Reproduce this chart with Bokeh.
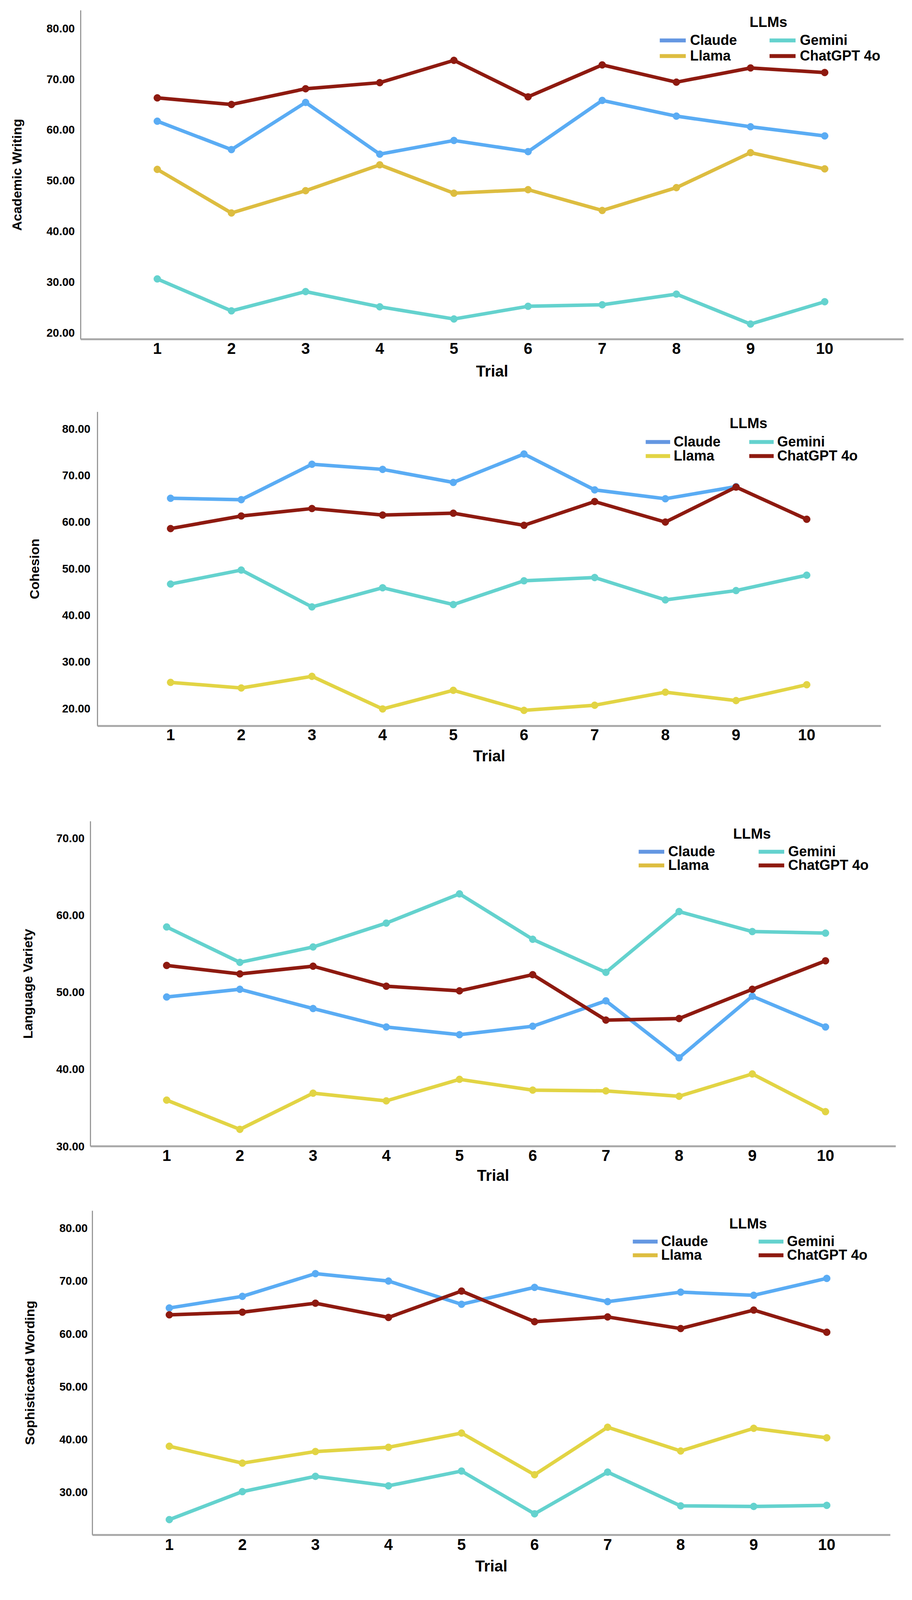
import math
from bokeh.plotting import figure
from bokeh.models import (FixedTicker, PrintfTickFormatter, Legend, LegendItem,
                          Label, Range1d)
from bokeh.embed import file_html
from bokeh.resources import INLINE

NAN = float("nan")

# ---------------- data ----------------
trials = [1, 2, 3, 4, 5, 6, 7, 8, 9, 10]
trial_labels = ["1", "2", "3", "4", "5", "6", "7", "8", "9", "10"]
models = ["Claude", "Gemini", "Llama", "ChatGPT 4o"]

academic_claude = [61.7, 56.1, 65.4, 55.2, 57.9, 55.7, 65.8, 62.7, 60.6, 58.8]
academic_gemini = [30.6, 24.3, 28.1, 25.1, 22.7, 25.2, 25.5, 27.6, 21.7, 26.1]
academic_llama = [52.2, 43.6, 48.0, 53.1, 47.5, 48.2, 44.1, 48.6, 55.5, 52.3]
academic_chatgpt = [66.3, 65.0, 68.1, 69.3, 73.7, 66.5, 72.8, 69.4, 72.2, 71.3]

cohesion_claude = [65.1, 64.8, 72.4, 71.3, 68.5, 74.6, 66.9, 65.0, 67.6, NAN]
cohesion_gemini = [46.7, 49.7, 41.8, 45.9, 42.3, 47.4, 48.1, 43.3, 45.3, 48.6]
cohesion_llama = [25.6, 24.4, 26.9, 19.9, 23.9, 19.6, 20.7, 23.5, 21.7, 25.1]
cohesion_chatgpt = [58.6, 61.3, 62.9, 61.5, 61.9, 59.3, 64.4, 60.0, 67.5, 60.6]

variety_claude = [49.4, 50.4, 47.9, 45.5, 44.5, 45.6, 48.9, 41.5, 49.5, 45.5]
variety_gemini = [58.5, 53.9, 55.9, 59.0, 62.8, 56.9, 52.6, 60.5, 57.9, 57.7]
variety_llama = [36.0, 32.2, 36.9, 35.9, 38.7, 37.3, 37.2, 36.5, 39.4, 34.5]
variety_chatgpt = [53.5, 52.4, 53.4, 50.8, 50.2, 52.3, 46.4, 46.6, 50.4, 54.1]

wording_claude = [64.9, 67.1, 71.4, 70.0, 65.6, 68.8, 66.1, 67.9, 67.3, 70.5]
wording_gemini = [24.8, 30.1, 33.0, 31.2, 34.0, 25.9, 33.8, 27.4, 27.3, 27.5]
wording_llama = [38.7, 35.5, 37.7, 38.5, 41.2, 33.3, 42.3, 37.8, 42.1, 40.3]
wording_chatgpt = [63.6, 64.1, 65.8, 63.1, 68.1, 62.3, 63.2, 61.0, 64.5, 60.3]

ticks_80 = [20, 30, 40, 50, 60, 70, 80]
ticks_70 = [30, 40, 50, 60, 70]
ticks_80b = [30, 40, 50, 60, 70, 80]

# ---------------- style ----------------
FONT = "Liberation Sans"
CLAUDE = "#5AACF4"
CLAUDE_LEG = "#6497E2"
GEMINI = "#64D2CE"
GOLD = "#DDBD40"
YELLOW = "#E2D444"
CHATGPT = "#8E1A10"

K = 0.735          # vertical fit of the page into the photographed area
FY = 29            # y tick labels
FX = 40            # x tick labels
FT = 40            # "Trial"
FTY = 34           # y titles
FL = 36            # legend labels
FLT = 37           # legend title
ITEM_H = 42

panels = [
    dict(title="Academic Writing", series=[academic_claude, academic_gemini, academic_llama, academic_chatgpt],
         llama=GOLD, llama_leg=GOLD, yticks=ticks_80, yr=(18.7, 83.56), xr=(-0.033, 11.064),
         h=1372, bl=206, br=6, bt=35, bb=190, fb=1190, xlab=42, xtitle=128, ystand=15, ytx=57,
         cx=1696, gx=1977, gw=67, so=11, r1=149, r2=203, tx=1974, ty=85),
    dict(title="Cohesion", series=[cohesion_claude, cohesion_gemini, cohesion_llama, cohesion_chatgpt],
         llama=YELLOW, llama_leg=YELLOW, yticks=ticks_80, yr=(16.25, 83.63), xr=(-0.034, 11.05),
         h=1380, bl=249, br=64, bt=62, bb=223, fb=2537, xlab=40, xtitle=122, ystand=18, ytx=102,
         cx=1660, gx=1925, gw=63, so=9, r1=1548, r2=1597, tx=1923, ty=1482),
    dict(title="Language Variety", series=[variety_claude, variety_gemini, variety_llama, variety_chatgpt],
         llama=YELLOW, llama_leg=GOLD, yticks=ticks_70, yr=(30.0, 72.23), xr=(-0.041, 10.96),
         h=1410, bl=231, br=26, bt=109, bb=169, fb=4001, xlab=42, xtitle=119, ystand=15, ytx=85,
         cx=1642, gx=1949, gw=66, so=10, r1=2975, r2=3023, tx=1932, ty=2912),
    dict(title="Sophisticated Wording", series=[wording_claude, wording_gemini, wording_llama, wording_chatgpt],
         llama=YELLOW, llama_leg=GOLD, yticks=ticks_80b, yr=(21.89, 83.32), xr=(-0.053, 10.87),
         h=1330, bl=236, br=40, bt=56, bb=145, fb=5355, xlab=43, xtitle=126, ystand=12, ytx=90,
         cx=1627, gx=1949, gw=64, so=9, r1=4333, r2=4381, tx=1922, ty=4270),
]


def make_panel(cfg):
    fl = cfg["bl"] + 8                      # frame left in page pixels
    bt = int(round(cfg["bt"] * K))
    bb0 = int(round(cfg["bb"] * K))
    xstand = max(2, int(round(cfg["xlab"] * K - 0.547 * FX)))
    tstand = max(2, int(round(cfg["xtitle"] * K - 0.547 * FT - xstand - 1.117 * FX)))
    need = int(math.ceil(xstand + 1.117 * FX + tstand + 1.117 * FT + 3))
    bb = max(bb0, need)
    h = int(round(cfg["h"] * K)) + (bb - bb0)
    ytstand = int(round(fl - cfg["ystand"] - 2.502 * FY - cfg["ytx"] - 0.464 * FTY))

    p = figure(width=2318, height=h, output_backend="svg", toolbar_location=None,
               x_range=Range1d(*cfg["xr"]), y_range=Range1d(*cfg["yr"]),
               min_border_left=cfg["bl"], min_border_right=cfg["br"],
               min_border_top=bt, min_border_bottom=bb)
    p.outline_line_color = None
    p.background_fill_color = "white"
    p.border_fill_color = "white"
    p.xgrid.visible = False
    p.ygrid.visible = False

    line_colors = [CLAUDE, GEMINI, cfg["llama"], CHATGPT]
    leg_colors = [CLAUDE_LEG, GEMINI, cfg["llama_leg"], CHATGPT]
    for vals, col in zip(cfg["series"], line_colors):
        p.line(trials, vals, line_color=col, line_width=9, line_join="round")
        p.scatter(trials, vals, size=18, fill_color=col, line_color=col)

    # legend swatch renderers (one undefined point, so nothing shows in the plot)
    dummies = [p.line([NAN], [NAN], line_color=c, line_width=10) for c in leg_colors]

    for ax in (p.xaxis[0], p.yaxis[0]):
        ax.major_tick_line_color = None
        ax.minor_tick_line_color = None
        ax.major_tick_out = 0
        ax.major_tick_in = 0
        ax.minor_tick_out = 0
        ax.minor_tick_in = 0
        ax.major_label_text_font = FONT
        ax.major_label_text_font_style = "bold"
        ax.major_label_text_color = "black"
        ax.axis_label_text_font = FONT
        ax.axis_label_text_font_style = "bold"
        ax.axis_label_text_color = "black"

    xa = p.xaxis[0]
    xa.ticker = FixedTicker(ticks=trials)
    xa.major_label_overrides = {t: l for t, l in zip(trials, trial_labels)}
    xa.major_label_text_font_size = f"{FX}px"
    xa.major_label_standoff = xstand
    xa.axis_label = "Trial"
    xa.axis_label_text_font_size = f"{FT}px"
    xa.axis_label_standoff = tstand
    xa.axis_line_color = "#aaaaaa"
    xa.axis_line_width = 5

    ya = p.yaxis[0]
    ya.ticker = FixedTicker(ticks=cfg["yticks"])
    ya.formatter = PrintfTickFormatter(format="%.2f")
    ya.major_label_text_font_size = f"{FY}px"
    ya.major_label_standoff = cfg["ystand"]
    ya.axis_label = cfg["title"]
    ya.axis_label_text_font_size = f"{FTY}px"
    ya.axis_label_standoff = ytstand
    ya.axis_line_color = "#999999"
    ya.axis_line_width = 3

    common = dict(orientation="vertical", padding=0, margin=0, spacing=0,
                  glyph_width=cfg["gw"], glyph_height=ITEM_H, label_height=ITEM_H,
                  label_standoff=cfg["so"], label_text_font=FONT,
                  label_text_font_style="bold", label_text_font_size=f"{FL}px",
                  label_text_color="black", border_line_color=None,
                  background_fill_alpha=0)
    placements = [(0, cfg["cx"], cfg["r1"]), (2, cfg["cx"], cfg["r2"]),
                  (1, cfg["gx"], cfg["r1"]), (3, cfg["gx"], cfg["r2"])]
    for idx, xref, yref in placements:
        loc = (xref - fl, (cfg["fb"] - yref) * K - ITEM_H / 2)
        p.add_layout(Legend(items=[LegendItem(label=models[idx], renderers=[dummies[idx]])],
                            location=loc, **common))

    p.add_layout(Label(x=cfg["tx"] - fl, y=(cfg["fb"] - cfg["ty"]) * K,
                       x_units="screen", y_units="screen",
                       text="LLMs", text_font=FONT, text_font_style="bold",
                       text_font_size=f"{FLT}px", text_align="center",
                       text_baseline="middle", text_color="black"))
    return p


# separate roots, so that each panel keeps its own frame position
figs = [make_panel(c) for c in panels]

open("out.html", "w").write(file_html(figs, INLINE))
